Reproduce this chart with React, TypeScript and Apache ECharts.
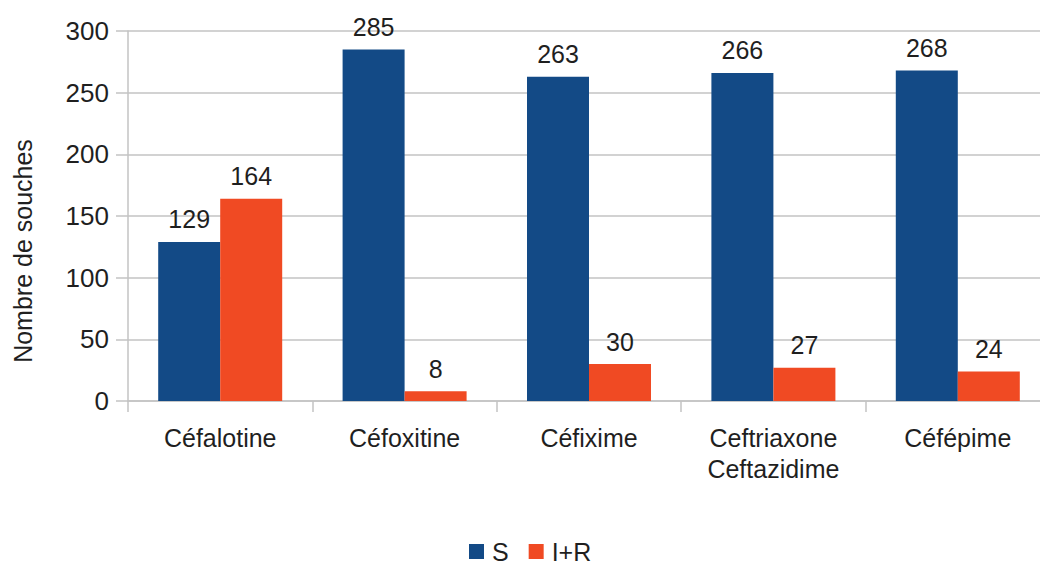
import React, { useEffect, useRef } from "react";
import * as echarts from "echarts";

const categories = ["Céfalotine", "Céfoxitine", "Céfixime", "Ceftriaxone\nCeftazidime", "Céfépime"];
const seriesS = [129, 285, 263, 266, 268];
const seriesIR = [164, 8, 30, 27, 24];
const yTicks = { min: 0, max: 300, interval: 50 };

const FONT = "'Liberation Sans', Arial, sans-serif";
const TEXT = "#1f1f1f";
const GRID = "#c3c3c3";

export default function App() {
  const ref = useRef<HTMLDivElement>(null);
  useEffect(() => {
    if (!ref.current) return;
    const chart = echarts.init(ref.current, undefined, { renderer: "svg" });
    const label = {
      show: true,
      position: "top",
      distance: 10,
      fontFamily: FONT,
      fontSize: 25,
      color: TEXT,
    };
    chart.setOption({
      animation: false,
      textStyle: { fontFamily: FONT },
      grid: {
        left: 128,
        right: -10,
        top: 31,
        bottom: 162,
        containLabel: false,
        outerBoundsMode: "none",
      },
      legend: {
        data: ["S", "I+R"],
        left: 464,
        top: 534,
        itemWidth: 15,
        itemHeight: 15,
        itemGap: 20,
        icon: "rect",
        textStyle: {
          fontFamily: FONT,
          fontSize: 25,
          lineHeight: 24,
          color: TEXT,
          padding: [0, 0, 0, 3],
        },
      },
      xAxis: {
        type: "category",
        data: categories,
        axisLine: { lineStyle: { color: GRID, width: 1.5 } },
        axisTick: { show: true, length: 11, lineStyle: { color: GRID, width: 1.5 } },
        axisLabel: {
          fontFamily: FONT,
          fontSize: 25,
          color: TEXT,
          margin: 21,
          lineHeight: 31,
          interval: 0,
        },
      },
      yAxis: {
        type: "value",
        min: yTicks.min,
        max: yTicks.max,
        interval: yTicks.interval,
        name: "Nombre de souches",
        nameLocation: "middle",
        nameGap: 93,
        nameRotate: 90,
        nameTextStyle: { fontFamily: FONT, fontSize: 25, color: TEXT, padding: [0, 0, 0, -70] },
        axisLine: { show: true, lineStyle: { color: GRID, width: 1.5 } },
        axisTick: { show: true, length: 12, lineStyle: { color: GRID, width: 1.5 } },
        splitLine: { lineStyle: { color: GRID, width: 1.5 } },
        axisLabel: { fontFamily: FONT, fontSize: 26, color: TEXT, margin: 19 },
      },
      series: [
        {
          name: "S",
          type: "bar",
          data: seriesS,
          barWidth: 62,
          barGap: "0%",
          itemStyle: { color: "#134a86" },
          label,
        },
        {
          name: "I+R",
          type: "bar",
          data: seriesIR,
          barWidth: 62,
          barGap: "0%",
          itemStyle: { color: "#f04a23" },
          label,
        },
      ],
    });
    return () => chart.dispose();
  }, []);
  return (
    <div
      ref={ref}
      style={{ position: "fixed", left: 0, top: 0, width: 1040, height: 563, background: "#fff" }}
    />
  );
}
